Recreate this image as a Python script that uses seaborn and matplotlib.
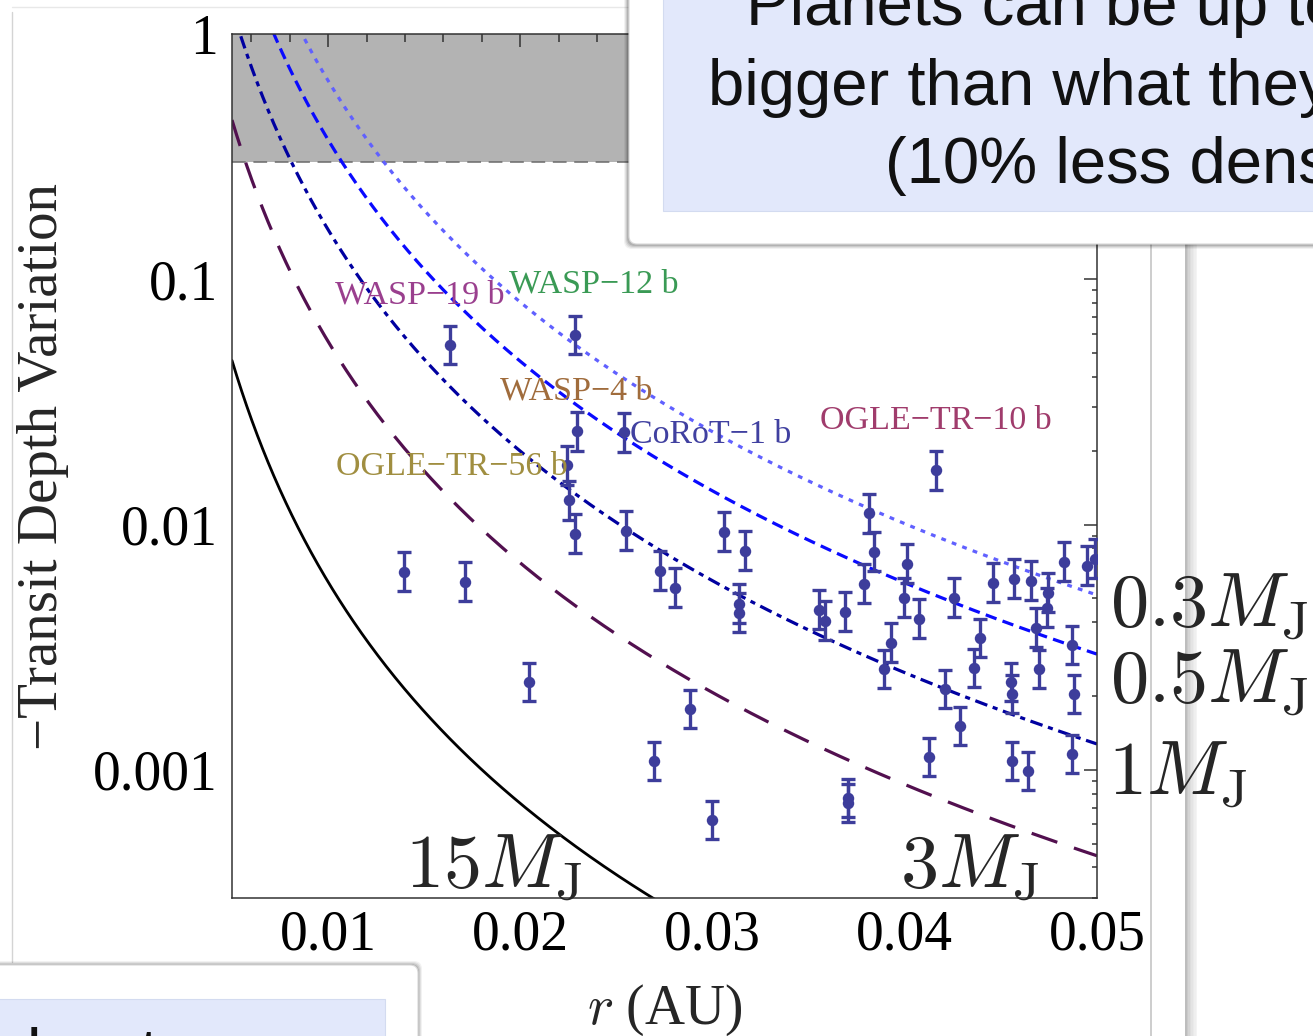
import numpy as np
import pandas as pd
import matplotlib
matplotlib.use("Agg")
import matplotlib.pyplot as plt
import seaborn as sns
from matplotlib.patches import Rectangle, FancyBboxPatch
from matplotlib.lines import Line2D
from matplotlib.transforms import IdentityTransform
from matplotlib.ticker import LogLocator, MultipleLocator, NullFormatter

W, H = 1313, 1036

# ---------------- data ----------------
r_au = [0.01395, 0.01634, 0.01712, 0.02045, 0.02243, 0.02253, 0.02284, 0.02284,
        0.02295, 0.02539, 0.02550, 0.02695, 0.02727, 0.02805, 0.02883, 0.02997,
        0.03060, 0.03138, 0.03138, 0.03169, 0.03554, 0.03585, 0.03689, 0.03705,
        0.03705, 0.03788, 0.03814, 0.03840, 0.03892, 0.03928, 0.03996, 0.04012,
        0.04074, 0.04126, 0.04162, 0.04209, 0.04256, 0.04287, 0.04360, 0.04391,
        0.04459, 0.04553, 0.04558, 0.04558, 0.04568, 0.04641, 0.04657, 0.04683,
        0.04698, 0.04740, 0.04745, 0.04828, 0.04870, 0.04870, 0.04880, 0.04948,
        0.04990]
depth_variation = [0.006431, 0.05377, 0.005853, 0.002287, 0.01741, 0.01253, 0.05907, 0.009190,
                   0.02396, 0.02374, 0.009452, 0.001088, 0.006491, 0.005532, 0.001774, 0.000625,
                   0.009363, 0.004759, 0.004373, 0.007832, 0.004498, 0.004056, 0.004414, 0.000769,
                   0.000733, 0.005744, 0.01109, 0.007758, 0.002584, 0.003299, 0.005035, 0.006932,
                   0.004133, 0.001130, 0.01661, 0.002141, 0.005035, 0.001512, 0.002608, 0.003457,
                   0.005799, 0.002287, 0.002042, 0.001088, 0.006020, 0.000991, 0.005908, 0.003798,
                   0.002584, 0.004585, 0.005278, 0.007063, 0.003237, 0.001162, 0.002042, 0.006803,
                   0.007265]
err_dex = 0.078  # half-length of error bars in decades

curve_names = [r"$15M_{\rm J}$", r"$3M_{\rm J}$", r"$1M_{\rm J}$", r"$0.5M_{\rm J}$", r"$0.3M_{\rm J}$"]
curve_r_unity = [0.00180, 0.00382, 0.00542, 0.00718, 0.00864]   # r (AU) where variation = 1, ~ r^-3

planet_names = ["WASP\u221219 b", "WASP\u221212 b", "WASP\u22124 b", "CoRoT\u22121 b",
                "OGLE\u2212TR\u221210 b", "OGLE\u2212TR\u221256 b"]
planet_label_r = [0.01036, 0.01941, 0.01894, 0.02571, 0.03559, 0.01041]
planet_label_y = [0.0798, 0.0885, 0.03237, 0.02141, 0.02442, 0.01585]
planet_colors = ["#9a3f8e", "#3a9a55", "#a06c3c", "#4040a0", "#a03c6c", "#a08e40"]

x_ticks = [0.01, 0.02, 0.03, 0.04, 0.05]
x_tick_labels = ["0.01", "0.02", "0.03", "0.04", "0.05"]
y_ticks = [0.001, 0.01, 0.1, 1]
y_tick_labels = ["0.001", "0.01", "0.1", "1"]

band_low, band_high = 0.3, 1.0

# ---------------- style ----------------
sns.set_theme(style="white")
plt.rcParams["font.family"] = ["Liberation Serif", "DejaVu Serif"]
plt.rcParams["mathtext.fontset"] = "cm"
plt.rcParams["axes.unicode_minus"] = True

fig = plt.figure(figsize=(W / 100, H / 100), dpi=100)
fig.patch.set_facecolor("white")
ax = fig.add_axes([232 / W, (H - 898) / H, 865 / W, 864 / H])
ax.set_facecolor("white")
ax.set_yscale("log")
ax.set_xlim(0.005, 0.05)
ax.set_ylim(3e-4, 1)

# shaded excluded region
ax.axhspan(band_low, band_high, color="#b3b3b3", zorder=0.5, lw=0)
ax.axhline(band_low, color="#6a6a6a", lw=1.1, ls=(0, (9, 5)), zorder=0.6)

# theoretical curves
rr = np.geomspace(0.005, 0.05, 600)
curve_styles = [
    dict(color="black", lw=2.0, ls="-"),
    dict(color="#52104f", lw=2.3, ls=(0, (8.5, 5.5))),
    dict(color="#0000a0", lw=2.3, ls=(0, (4.0, 1.8, 1.6, 1.8))),
    dict(color="#0a0aff", lw=2.3, ls=(0, (3.6, 2.0))),
    dict(color="#6060ff", lw=2.3, ls=(0, (1.5, 2.0))),
]
for r0, st in zip(curve_r_unity, curve_styles):
    yy = (r0 / rr) ** 3
    sns.lineplot(x=rr, y=yy, ax=ax, color=st["color"], linewidth=st["lw"],
                 linestyle=st["ls"], estimator=None, sort=False, zorder=2)

# data points with error bars
df = pd.DataFrame({"r": r_au, "v": depth_variation})
fac = 10 ** err_dex
lo = df["v"] - df["v"] / fac
hi = df["v"] * fac - df["v"]
pt_color = "#3d3d9b"
ax.errorbar(df["r"], df["v"], yerr=[lo, hi], fmt="none", ecolor=pt_color,
            elinewidth=2.4, capsize=5.0, capthick=2.4, zorder=4)
sns.scatterplot(data=df, x="r", y="v", ax=ax, color=pt_color, s=68,
                linewidth=0, zorder=5)

# planet labels
for name, lr, ly, c in zip(planet_names, planet_label_r, planet_label_y, planet_colors):
    ax.text(lr, ly, name, color=c, fontsize=24.5, ha="left", va="baseline", zorder=6)

# curve labels
label_pos = [(0.200, 0.0116), (0.772, 0.0116), (1.013, 0.1192), (1.015, 0.2257), (1.015, 0.3137)]
for name, (lx, ly) in zip(curve_names, label_pos):
    ax.text(lx, ly, name, transform=ax.transAxes, fontsize=55, ha="left",
            va="baseline", clip_on=False, zorder=7)

# ticks
ax.set_xticks(x_ticks, labels=x_tick_labels)
ax.set_yticks(y_ticks, labels=y_tick_labels)
ax.xaxis.set_minor_locator(MultipleLocator(0.002))
ax.yaxis.set_minor_locator(LogLocator(base=10, subs=np.arange(2, 10)))
ax.yaxis.set_minor_formatter(NullFormatter())
ax.tick_params(which="both", direction="in", top=True, right=True, colors="#333333",
               width=1.1, labelcolor="black", labelsize=40)
ax.tick_params(axis="x", which="major", length=9.5, pad=8)
ax.tick_params(axis="x", which="minor", length=6)
ax.tick_params(axis="y", which="major", length=9.5, pad=10)
ax.tick_params(axis="y", which="minor", length=3.6)
for sp in ax.spines.values():
    sp.set_color("#333333")
    sp.set_linewidth(1.1)
    sp.set_visible(True)

ax.set_xlabel(r"$r$ (AU)", fontsize=40)
ax.xaxis.set_label_coords(0.5, -0.098)
ax.set_ylabel("\u2212Transit Depth Variation", fontsize=41)
ax.yaxis.set_label_coords(-0.1884, 0.5)

# ---------------- slide chrome ----------------
ID = IdentityTransform()


def prect(x0, y0, x1, y1, **kw):
    p = Rectangle((x0, H - y1), x1 - x0, y1 - y0, transform=ID, **kw)
    fig.add_artist(p)
    return p


def pline(xs, ys, **kw):
    l = Line2D(xs, [H - y for y in ys], transform=ID, **kw)
    fig.add_artist(l)
    return l


pline([12, 12], [12, 962], color="#d4d4d4", lw=1.0, zorder=-1)
pline([12, 630], [7, 7], color="#e8e8e8", lw=1.0, zorder=-1)
pline([1151, 1151], [240, 1036], color="#cdcdcd", lw=1.4, zorder=-1)
shades = ["#bdbdbd", "#c9c9c9", "#d4d4d4", "#dddddd", "#e4e4e4", "#eaeaea", "#efefef", "#f4f4f4"]
for i, c in enumerate(shades):
    prect(1185 + i * 1.5, 240, 1186.5 + i * 1.5, 1036, color=c, lw=0, zorder=-1)

# top-right callout box
for i, a in enumerate([0.05, 0.07, 0.09, 0.12]):
    fig.add_artist(FancyBboxPatch((624 + i, H - 249 + i), W + 50, 300,
                                  boxstyle="round,pad=0,rounding_size=8", transform=ID,
                                  fc=(0, 0, 0, a), ec="none", zorder=1))
fig.add_artist(FancyBboxPatch((629, H - 244), W + 50, 300,
                              boxstyle="round,pad=0,rounding_size=8", transform=ID,
                              fc="white", ec="#d9d9d9", lw=0.8, zorder=1.1))
prect(663, -10, W + 10, 211, fc="#e2e8fb", ec="#d3dbf0", lw=0.8, zorder=1.2)
box_font = dict(family=["Liberation Sans", "DejaVu Sans"], fontsize=47, color="#111111",
                ha="left", va="baseline", zorder=3)
fig.text(746 / W, 1 - 25 / H, "Planets can be up to", **box_font)
fig.text(708 / W, 1 - 105 / H, "bigger than what they", **box_font)
fig.text(885 / W, 1 - 183 / H, "(10% less dense", **box_font)

# bottom-left box
for i, a in enumerate([0.05, 0.07, 0.09, 0.12]):
    fig.add_artist(FancyBboxPatch((-60, H - 1100), 482 - i, 139 - i,
                                  boxstyle="round,pad=0,rounding_size=8", transform=ID,
                                  fc=(0, 0, 0, a), ec="none", zorder=1))
fig.add_artist(FancyBboxPatch((-60, H - 1100), 478, 135,
                              boxstyle="round,pad=0,rounding_size=8", transform=ID,
                              fc="white", ec="#d9d9d9", lw=0.8, zorder=1.1))
prect(-10, 999, 385, H + 10, fc="#e2e8fb", ec="#d3dbf0", lw=0.8, zorder=1.2)
fig.text(27 / W, 1 - 1074 / H, "l", **box_font)
fig.text(140 / W, 1 - 1074 / H, "t", **box_font)

fig.savefig("out.png", dpi=100)
